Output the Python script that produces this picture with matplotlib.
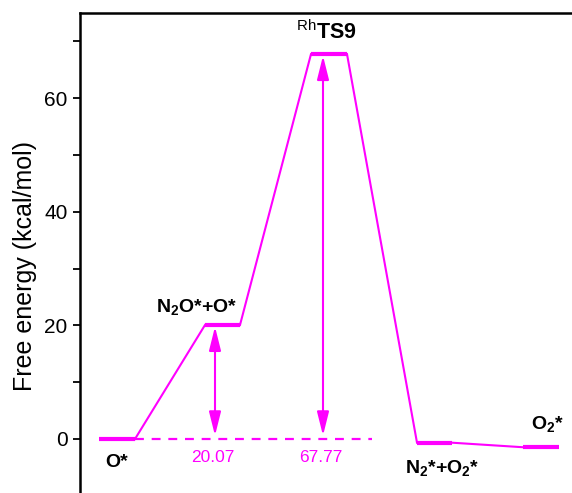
import numpy as np
import matplotlib
matplotlib.use('Agg')
import matplotlib.pyplot as plt

plt.rcParams['font.family'] = ['Liberation Sans', 'DejaVu Sans']
plt.rcParams['mathtext.fontset'] = 'custom'
plt.rcParams['mathtext.rm'] = 'Liberation Sans'
plt.rcParams['mathtext.bf'] = 'Liberation Sans:bold'

# energy levels (kcal/mol) and their horizontal extents along the path
states = ['O*', 'N$_\\mathbf{2}$O*+O*', '$^{\\mathrm{Rh}}$TS9', 'N$_\\mathbf{2}$*+O$_\\mathbf{2}$*', 'O$_\\mathbf{2}$*']
energies = [0.0, 20.07, 67.77, -0.65, -1.45]
level_start = [99, 205, 311, 417, 523]
level_end = [135, 240, 347, 452, 559]
barriers = [20.07, 67.77]
barrier_x = [215, 323]

col = '#FF00FF'

fig = plt.figure(figsize=(5.72, 4.93), dpi=100)
ax = fig.add_axes([80 / 572, -2.8 / 493, 520 / 572, 482.8 / 493])

# connectors
for i in range(len(energies) - 1):
    ax.plot([level_end[i], level_start[i + 1]], [energies[i], energies[i + 1]], color=col, lw=1.5)
# levels
for i in range(len(energies)):
    ax.plot([level_start[i], level_end[i]], [energies[i], energies[i]], color=col, lw=3, solid_capstyle='butt')

# reference dashed line
ax.plot([level_end[0], 372], [0, 0], color=col, lw=1.6, ls=(0, (4, 3.5)))

# barrier arrows and values
for bx, b in zip(barrier_x, barriers):
    ax.annotate('', xy=(bx, b - 0.3), xytext=(bx, 0.6),
                arrowprops=dict(arrowstyle='<|-|>,head_length=0.72,head_width=0.18',
                                color=col, lw=1.5, mutation_scale=20,
                                shrinkA=0, shrinkB=0))
    ax.text(bx - 2, -2.0, '%.2f' % b, color=col, fontsize=12.5, ha='center', va='top')

# state labels
label_x = [117, 197, 326, 442, 548]
label_y = [-2.6, 21.3, 69.6, -3.5, 0.7]
label_va = ['top', 'bottom', 'bottom', 'top', 'bottom']
label_size = [14, 14, 15.5, 14, 14]
for s, lx, ly, va, fs in zip(states, label_x, label_y, label_va, label_size):
    ax.text(lx, ly, s, fontsize=fs, fontweight='bold', ha='center', va=va)

ax.set_xlim(80, 600)
ax.set_ylim(-10, 75)
ax.set_yticks([0, 20, 40, 60])
ax.set_yticks([10, 30, 50, 70], minor=True)
ax.set_xticks([])
ax.tick_params(axis='y', which='major', length=5, width=1.3, labelsize=15, pad=4)
ax.tick_params(axis='y', which='minor', length=5, width=1.3)
for s in ['left', 'top']:
    ax.spines[s].set_linewidth(1.8)
ax.spines['right'].set_visible(False)
ax.spines['bottom'].set_visible(False)
ax.set_ylabel('Free energy (kcal/mol)', fontsize=18)
ax.yaxis.set_label_coords(-0.083, 0.476)

fig.savefig('out.png', dpi=100)
